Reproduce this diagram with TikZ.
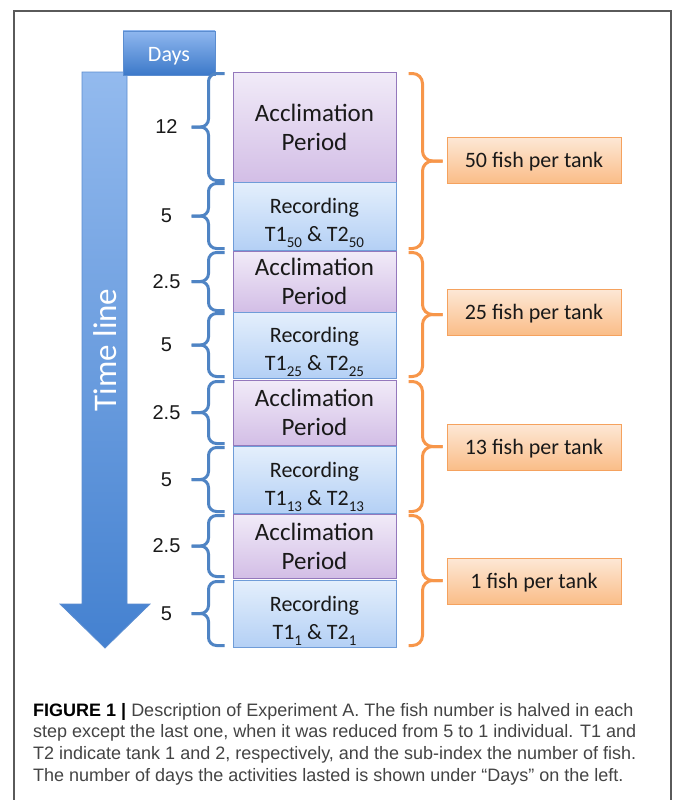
\documentclass[tikz,border=0pt]{standalone}
\usepackage{fontspec}
\setmainfont{Carlito}
\newfontfamily\numfont{Liberation Sans}
\newfontfamily\capfont{Liberation Sans}
\usetikzlibrary{calc}
\definecolor{frameGray}{HTML}{5A5A5A}
\definecolor{arrowTop}{HTML}{93BAEE}
\definecolor{arrowBot}{HTML}{4481D0}
\definecolor{arrowEdge}{HTML}{5B8DD0}
\definecolor{daysTop}{HTML}{8FB7EF}
\definecolor{daysBot}{HTML}{3C79C9}
\definecolor{accTop}{HTML}{F1EBF8}
\definecolor{accBot}{HTML}{D3BEE6}
\definecolor{accEdge}{HTML}{9478BC}
\definecolor{recTop}{HTML}{E4EFFC}
\definecolor{recBot}{HTML}{B4D0F5}
\definecolor{recEdge}{HTML}{6F9CD8}
\definecolor{braceBlue}{HTML}{4F84C4}
\definecolor{braceOrange}{HTML}{F7964A}
\definecolor{oTop}{HTML}{FDE8D6}
\definecolor{oBot}{HTML}{FABD88}
\definecolor{oEdge}{HTML}{F5A25E}
\definecolor{capText}{HTML}{444444}
\newcommand\sbt[1]{\raisebox{-0.28em}{\fontsize{15}{15}\selectfont #1}}
\newcommand\dropby[2]{\raisebox{-#1}[\height][\depth]{#2}}
\newcommand\rectext[1]{\dropby{6pt}{\begin{tabular}{@{}c@{}}Recording\\T1\sbt{#1} \& T2\sbt{#1}\end{tabular}}}
\begin{document}
\begin{tikzpicture}[x=1pt,y=-1pt,
  accbox/.style={draw=accEdge, line width=1pt, top color=accTop, bottom color=accBot,
    minimum width=163pt, inner sep=0pt, align=center, text=black!90,
    font=\fontsize{25}{29}\selectfont},
  recbox/.style={draw=recEdge, line width=1pt, top color=recTop, bottom color=recBot,
    minimum width=163pt, inner sep=0pt, text=black!90,
    font=\fontsize{22}{28}\selectfont},
  fishbox/.style={draw=oEdge, line width=1pt, top color=oTop, bottom color=oBot,
    minimum width=174pt, minimum height=46pt, inner sep=0pt, text=black!90,
    font=\fontsize{22}{26}\selectfont},
  daysbox/.style={draw=arrowEdge, line width=0.8pt, top color=daysTop, bottom color=daysBot,
    minimum width=92pt, minimum height=44pt, inner sep=0pt, text=white,
    font=\fontsize{22}{26}\selectfont},
  numlab/.style={font=\numfont\fontsize{20}{22}\selectfont, inner sep=0pt, text=black!90},
  bluebrace/.style={draw=braceBlue, line width=3pt, rounded corners=8pt},
  orangebrace/.style={draw=braceOrange, line width=3pt, rounded corners=10pt},
  capline/.style={anchor=base west, inner sep=0pt, text=capText,
    font=\capfont\fontsize{18}{21}\selectfont}
]
\useasboundingbox (0,0) rectangle (674,800);
\fill[white] (0,0) rectangle (674,800);
% frame
\draw[frameGray, line width=1.4pt] (14,820) -- (14,11) -- (671,11) -- (671,820);

% time line arrow
\shade[top color=arrowTop, bottom color=arrowBot, draw=arrowEdge, line width=0.8pt]
  (82,72) -- (127,72) -- (127,604) -- (150,604) -- (105,648) -- (60,604) -- (82,604) -- cycle;
\node[rotate=90, text=white, font=\fontsize{33}{33}\selectfont, inner sep=0pt] (tl) at (105,350) {Time line};
\node[daysbox] (days) at (169,53) {\dropby{3pt}{Days}};

% activity boxes
\node[accbox, minimum height=110pt] (acc1) at (314.5,127) {Acclimation\\Period};
\node[recbox, minimum height=68pt] (rec1) at (314.5,216) {\rectext{50}};
\node[accbox, minimum height=61pt] (acc2) at (314.5,281.5) {Acclimation\\Period};
\node[recbox, minimum height=66pt] (rec2) at (314.5,345) {\rectext{25}};
\node[accbox, minimum height=65pt] (acc3) at (314.5,412.5) {Acclimation\\Period};
\node[recbox, minimum height=67pt] (rec3) at (314.5,479.5) {\rectext{13}};
\node[accbox, minimum height=64pt] (acc4) at (314.5,546) {Acclimation\\Period};
\node[recbox, minimum height=67pt] (rec4) at (314.5,613.5) {\rectext{1}};

% day braces and numbers
\foreach \b/\n in {acc1/12, rec1/5, acc2/2.5, rec2/5, acc3/2.5, rec3/5, acc4/2.5, rec4/5}{
  \draw[bluebrace] ([xshift=-8pt,yshift=-2pt]\b.north west) -| ([xshift=-24pt]\b.west) -- ([xshift=-41pt]\b.west);
  \draw[bluebrace] ([xshift=-41pt]\b.west) -- ([xshift=-24pt]\b.west) |- ([xshift=-8pt,yshift=2pt]\b.south west);
  \node[numlab] (n-\b) at ($(\b.west)+(-66,0)$) {\n};
}

% fish boxes
\node[fishbox] (f50) at (534,160) {\dropby{2pt}{50 fish per tank}};
\node[fishbox] (f25) at (534,312) {\dropby{2pt}{25 fish per tank}};
\node[fishbox] (f13) at (534,447) {\dropby{2pt}{13 fish per tank}};
\node[fishbox] (f1) at (534,581) {\dropby{2pt}{1 fish per tank}};

% fish braces
\foreach \a/\r/\f in {acc1/rec1/f50, acc2/rec2/f25, acc3/rec3/f13, acc4/rec4/f1}{
  \coordinate (m-\f) at ($(\a.north east)!0.5!(\r.south east)$);
  \draw[orangebrace] ([xshift=12pt,yshift=-2pt]\a.north east) -| ([xshift=26pt]m-\f) -- ([xshift=46pt]m-\f);
  \draw[orangebrace] ([xshift=46pt]m-\f) -- ([xshift=26pt]m-\f) |- ([xshift=12pt,yshift=2pt]\r.south east);
}

% caption
\node[capline] (c1) at (33,716) {{\bfseries\color{black}FIGURE 1 |} Description of Experiment A. The fish number is halved in each};
\node[capline] (c2) at (33,737.7) {step except the last one, when it was reduced from 5 to 1 individual. T1 and};
\node[capline] (c3) at (33,759.3) {T2 indicate tank 1 and 2, respectively, and the sub-index the number of fish.};
\node[capline] (c4) at (33,781) {The number of days the activities lasted is shown under “Days” on the left.};
\end{tikzpicture}
\end{document}
